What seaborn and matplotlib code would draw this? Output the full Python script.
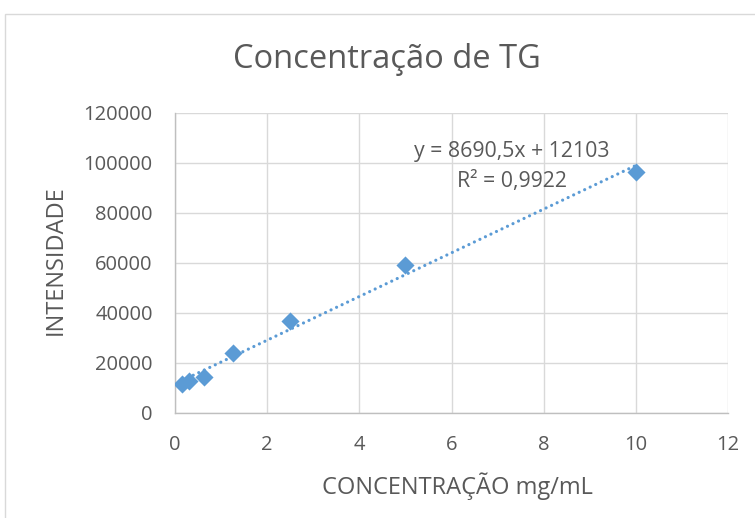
import numpy as np
import pandas as pd
import seaborn as sns
import matplotlib.pyplot as plt
from matplotlib.patches import Rectangle

# data
conc = [0.156, 0.3125, 0.625, 1.25, 2.5, 5, 10]
intensity = [11500, 12800, 14300, 23900, 36800, 59300, 96300]
x_ticks = [0, 2, 4, 6, 8, 10, 12]
y_ticks = [0, 20000, 40000, 60000, 80000, 100000, 120000]

df = pd.DataFrame({'conc': conc, 'intensity': intensity})

sns.set_style('white')
plt.rcParams['font.family'] = ['Open Sans', 'DejaVu Sans']
txt = '#595959'
blue = '#5b9bd5'

fig = plt.figure(figsize=(7.55, 5.18), dpi=100)
fig.patches.append(Rectangle((5/755, -0.01), 1, 1 - 14/518 + 0.01, transform=fig.transFigure,
                             fill=False, edgecolor='#d9d9d9', linewidth=1))
ax = fig.add_axes([175/755, 1 - 413/518, 553/755, 300/518])

# linear trendline (round dots)
slope, intercept = np.polyfit(df.conc, df.intensity, 1)
xl = np.array([min(conc), max(conc)])
ax.plot(xl, slope * xl + intercept, linestyle=(0, (0.01, 1.9)), color=blue, linewidth=2.3,
        dash_capstyle='round', zorder=2)

sns.scatterplot(data=df, x='conc', y='intensity', marker='D', s=85, color=blue,
                edgecolor=blue, linewidth=0, ax=ax, zorder=3)

ax.set_xlim(0, 12)
ax.set_ylim(0, 120000)
ax.set_xticks(x_ticks)
ax.set_yticks(y_ticks)
ax.set_yticklabels([str(v) for v in y_ticks])
ax.grid(True, color='#d9d9d9', linewidth=1)
ax.set_axisbelow(True)
for s in ['top', 'right']:
    ax.spines[s].set_visible(False)
for s in ['left', 'bottom']:
    ax.spines[s].set_color('#bfbfbf')
    ax.spines[s].set_linewidth(1)
ax.tick_params(length=0, labelsize=14.5, colors=txt)
ax.tick_params(axis='y', pad=16)
ax.tick_params(axis='x', pad=16)

ax.set_xlabel('CONCENTRAÇÃO mg/mL', fontsize=17, color=txt, va='center')
ax.set_ylabel('INTENSIDADE', fontsize=17, color=txt, va='center')
ax.xaxis.set_label_coords((457 - 175) / 553, (413 - 486) / 300)
ax.yaxis.set_label_coords((56 - 175) / 553, (413 - 260) / 300)
fig.text(387/755, 1 - 60/518, 'Concentração de TG', fontsize=23.5, color=txt,
         ha='center', va='center')

ax.text(7.31, 104800, 'y = 8690,5x + 12103', fontsize=15.3, color=txt, ha='center', va='center')
ax.text(7.31, 92400, 'R² = 0,9922', fontsize=15.3, color=txt, ha='center', va='center')

fig.savefig('out.png', dpi=100)
